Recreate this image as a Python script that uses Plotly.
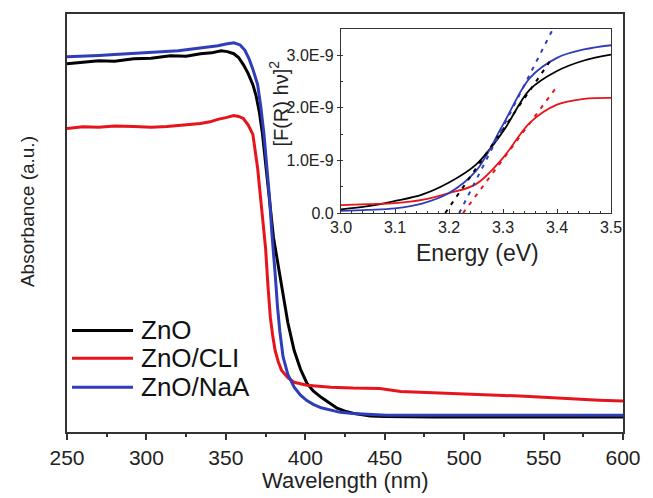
import plotly.graph_objects as go

# ---------------- data (main panel) ----------------
series_names = ["ZnO", "ZnO/CLI", "ZnO/NaA"]
series_colors = ["#000000", "#e8141b", "#2f3db8"]

wl_zno = [250, 260, 270, 280, 292, 303, 315, 325, 334, 341, 347, 351, 355, 358, 361, 364, 367, 369, 371, 373,
          374, 375.5, 377, 378.5, 380, 382, 384, 386, 389, 393, 397, 401, 405, 410, 416, 420, 425, 430, 436,
          441, 450, 462, 480, 500, 550, 600]
abs_zno = [0.881, 0.884, 0.888, 0.887, 0.893, 0.894, 0.900, 0.899, 0.905, 0.907, 0.912, 0.910, 0.905, 0.896,
           0.879, 0.858, 0.831, 0.805, 0.767, 0.715, 0.680, 0.620, 0.560, 0.508, 0.465, 0.420, 0.372, 0.325,
           0.262, 0.195, 0.150, 0.117, 0.098, 0.083, 0.067, 0.057, 0.050, 0.045, 0.041, 0.038, 0.037, 0.036,
           0.036, 0.036, 0.036, 0.036]

wl_cli = [250, 260, 270, 280, 292, 303, 313, 325, 334, 340, 345, 350, 355, 358, 361, 364, 367, 370, 373, 375,
          376.5, 378, 379.5, 381, 383, 385, 389, 393, 401, 416, 430, 440, 447, 460, 475, 488, 503, 520, 535,
          550, 567, 585, 600]
abs_cli = [0.726, 0.730, 0.729, 0.732, 0.731, 0.729, 0.731, 0.734, 0.738, 0.742, 0.748, 0.752, 0.757, 0.755,
           0.750, 0.735, 0.712, 0.631, 0.512, 0.440, 0.350, 0.274, 0.230, 0.195, 0.168, 0.148, 0.130, 0.119,
           0.112, 0.107, 0.105, 0.104, 0.104, 0.097, 0.095, 0.093, 0.090, 0.088, 0.086, 0.083, 0.079, 0.076,
           0.074]

wl_naa = [250, 260, 270, 280, 290, 300, 310, 320, 330, 338, 345, 350, 355, 359, 362, 364.6, 367, 370, 372,
          374, 376, 377.5, 379, 380, 381, 382.5, 384, 386, 389, 393, 397, 401, 405, 410, 416, 422, 430, 440,
          451, 480, 500, 550, 600]
abs_naa = [0.898, 0.899, 0.901, 0.903, 0.905, 0.907, 0.910, 0.912, 0.917, 0.920, 0.924, 0.928, 0.931, 0.926,
           0.913, 0.893, 0.868, 0.831, 0.778, 0.712, 0.631, 0.560, 0.474, 0.433, 0.380, 0.300, 0.240, 0.180,
           0.138, 0.107, 0.088, 0.075, 0.066, 0.058, 0.052, 0.047, 0.044, 0.042, 0.040, 0.040, 0.040, 0.040,
           0.040]

main_x = [wl_zno, wl_cli, wl_naa]
main_y = [abs_zno, abs_cli, abs_naa]

x_ticks_main = [250, 300, 350, 400, 450, 500, 550, 600]

# ---------------- data (inset) ----------------
energy = [3.00, 3.05, 3.10, 3.15, 3.20, 3.25, 3.30, 3.35, 3.40, 3.45, 3.50]
f_zno = [0.07e-9, 0.13e-9, 0.23e-9, 0.35e-9, 0.58e-9, 0.92e-9, 1.55e-9, 2.35e-9, 2.70e-9, 2.90e-9, 3.01e-9]
f_cli = [0.15e-9, 0.17e-9, 0.19e-9, 0.25e-9, 0.38e-9, 0.55e-9, 1.05e-9, 1.72e-9, 2.06e-9, 2.17e-9, 2.19e-9]
f_naa = [0.04e-9, 0.06e-9, 0.09e-9, 0.18e-9, 0.38e-9, 0.80e-9, 1.68e-9, 2.57e-9, 2.95e-9, 3.11e-9, 3.19e-9]
inset_y = [f_zno, f_cli, f_naa]

# tangent (Tauc) lines: endpoints
tan_x = [[3.193, 3.392], [3.226, 3.396], [3.219, 3.392]]
tan_y = [[0.0, 2.96e-9], [0.0, 2.35e-9], [0.0, 3.49e-9]]

inset_xticks = [3.0, 3.1, 3.2, 3.3, 3.4, 3.5]
inset_yticks = [0, 1e-9, 2e-9, 3e-9]
inset_yticklabels = ["0.0", "1.0E-9", "2.0E-9", "3.0E-9"]

FONT = "Liberation Sans, Arial, sans-serif"
AXC = "#333333"

fig = go.Figure()

for name, c, xs, ys in zip(series_names, series_colors, main_x, main_y):
    fig.add_trace(go.Scatter(x=xs, y=ys, mode="lines", name=name,
                             line=dict(color=c, width=3), showlegend=False,
                             xaxis="x", yaxis="y"))

for name, c, ys in zip(series_names, series_colors, inset_y):
    fig.add_trace(go.Scatter(x=energy, y=ys, mode="lines", name=name,
                             line=dict(color=c, width=1.8, shape="spline"), showlegend=False,
                             xaxis="x2", yaxis="y2"))

for c, xs, ys in zip(series_colors, tan_x, tan_y):
    fig.add_trace(go.Scatter(x=xs, y=ys, mode="lines", showlegend=False,
                             line=dict(color=c, width=2, dash="4px,6px"),
                             xaxis="x2", yaxis="y2"))

# plot area in px: x 67..623, y 12..432
L, R, T, B = 67, 623, 12, 432
W, H = 653, 498
def px_x(p):
    return (p - L) / (R - L)
def px_y(p):
    return (B - p) / (B - T)

# manual legend (as in the original figure: long line samples)
leg_y = [330, 358, 387]
shapes = []
annotations = []
for name, c, yy in zip(series_names, series_colors, leg_y):
    shapes.append(dict(type="line", xref="paper", yref="paper",
                       x0=px_x(72), x1=px_x(133), y0=px_y(yy), y1=px_y(yy),
                       line=dict(color=c, width=3)))
    annotations.append(dict(text=name, xref="paper", yref="paper", x=px_x(139), y=px_y(yy),
                            xanchor="left", yanchor="middle", showarrow=False,
                            font=dict(family=FONT, size=26, color="#111111")))

annotations += [
    dict(text="Wavelength (nm)", xref="paper", yref="paper", x=px_x(345), y=px_y(481),
         xanchor="center", yanchor="middle", showarrow=False,
         font=dict(family=FONT, size=22, color="#222222")),
    dict(text="Absorbance (a.u.)", xref="paper", yref="paper", x=px_x(27), y=px_y(211),
         xanchor="center", yanchor="middle", showarrow=False, textangle=-90,
         font=dict(family=FONT, size=19, color="#222222")),
    dict(text="Energy (eV)", xref="paper", yref="paper", x=px_x(477), y=px_y(252),
         xanchor="center", yanchor="middle", showarrow=False,
         font=dict(family=FONT, size=23, color="#222222")),
    dict(text="[F(R) hν]<sup>2</sup>", xref="paper", yref="paper", x=px_x(279), y=px_y(102),
         xanchor="center", yanchor="middle", showarrow=False, textangle=-90,
         font=dict(family=FONT, size=20, color="#222222")),
]

fig.update_layout(
    width=W, height=H,
    margin=dict(l=L, r=W - R, t=T, b=H - B),
    paper_bgcolor="white", plot_bgcolor="white",
    showlegend=False,
    font=dict(family=FONT, color="#222222"),
    xaxis=dict(range=[250, 600], tickvals=x_ticks_main, ticks="outside", ticklen=6, tickwidth=1.5,
               tickcolor=AXC, showline=True, linecolor=AXC, linewidth=1.5, mirror=True,
               showgrid=False, zeroline=False, tickfont=dict(size=21, family=FONT, color="#222222"),
               minor=dict(ticks="outside", ticklen=3, tickwidth=1.5, tickcolor=AXC, dtick=25)),
    yaxis=dict(range=[0, 1], showticklabels=False, ticks="", showline=True, linecolor=AXC,
               linewidth=1.5, mirror=True, showgrid=False, zeroline=False),
    xaxis2=dict(domain=[px_x(341), px_x(611)], anchor="y2", range=[3.0, 3.5], tickvals=inset_xticks,
                ticktext=["3.0", "3.1", "3.2", "3.3", "3.4", "3.5"],
                ticks="inside", ticklen=4, tickwidth=1, tickcolor=AXC,
                showline=True, linecolor=AXC, linewidth=1.2, mirror=True, showgrid=False, zeroline=False,
                tickfont=dict(size=16, family=FONT, color="#222222"),
                minor=dict(ticks="inside", ticklen=2, tickwidth=1, tickcolor=AXC, dtick=0.02)),
    yaxis2=dict(domain=[px_y(212), px_y(27)], anchor="x2", range=[0, 3.5e-9], tickvals=inset_yticks,
                ticktext=inset_yticklabels, ticks="outside", ticklen=3, tickwidth=1, tickcolor=AXC,
                showline=True, linecolor=AXC, linewidth=1.2, mirror=True, showgrid=False, zeroline=False,
                tickfont=dict(size=16, family=FONT, color="#222222"),
                minor=dict(ticks="inside", ticklen=2, tickwidth=1, tickcolor=AXC, dtick=0.5e-9)),
    shapes=shapes,
    annotations=annotations,
)

fig.write_html("out.html")
